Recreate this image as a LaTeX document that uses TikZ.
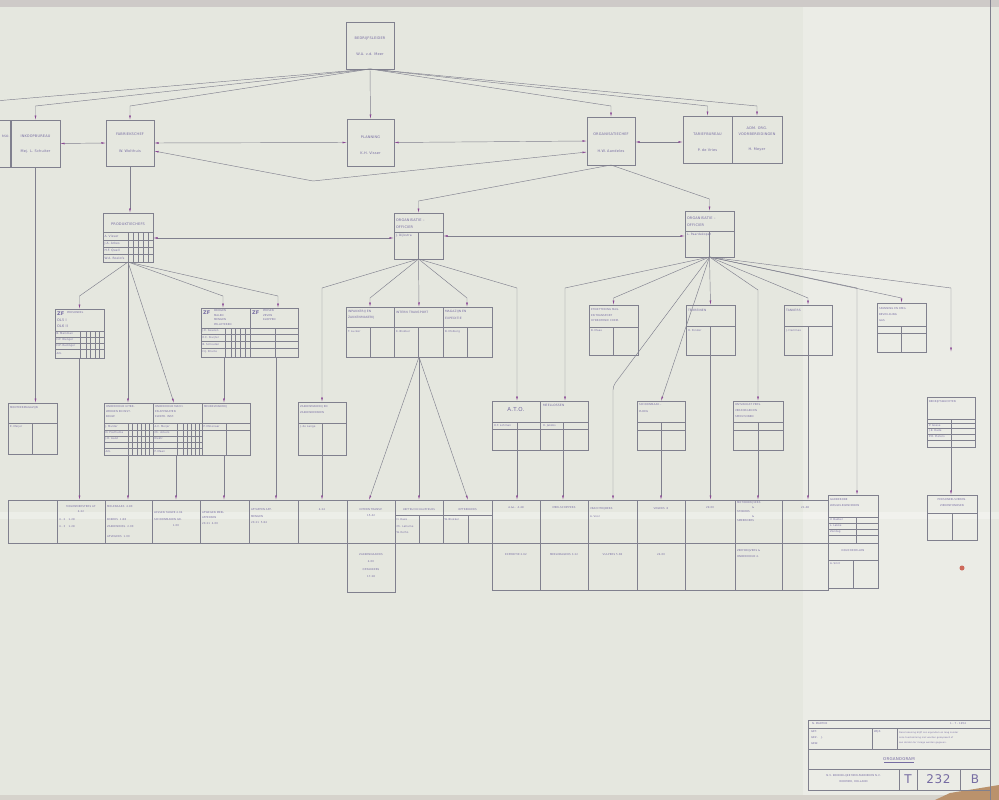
\documentclass[tikz,border=0pt]{standalone}
\usepackage{fontspec}
\newfontfamily\sten[LetterSpace=5]{DejaVu Sans}
\usetikzlibrary{arrows.meta}
\definecolor{paper}{RGB}{229,231,223}
\definecolor{paperR}{RGB}{235,236,230}
\definecolor{edgeT}{RGB}{206,202,200}
\definecolor{edgeB}{RGB}{214,211,204}
\definecolor{tanc}{RGB}{186,146,108}
\definecolor{ln}{RGB}{128,128,142}
\definecolor{ah}{RGB}{138,72,148}
\definecolor{ink}{RGB}{118,108,162}
\definecolor{stain}{RGB}{205,105,90}
\newcounter{tnode}
\newcommand{\orgbx}[5]{\node[bx,anchor=north west,minimum width={(#4-(#2))*1pt},minimum height={(#5-(#3))*1pt}] (#1) at (#2,#3) {};}
\newcommand{\hlin}[3]{\draw[gl] (#1,#3) -- (#2,#3);}
\newcommand{\vlin}[3]{\draw[gl] (#1,#2) -- (#1,#3);}
\newcommand{\txtl}[3][]{\stepcounter{tnode}\node[txl,#1] (t\arabic{tnode}) at (#2) {#3};}
\newcommand{\txtc}[3][]{\stepcounter{tnode}\node[txc,#1] (t\arabic{tnode}) at (#2) {#3};}
\begin{document}
\begin{tikzpicture}[x=1pt,y=-1pt,
 bx/.style={draw=ln,line width=0.5pt,inner sep=0pt,outer sep=0pt},
 gl/.style={draw=ln,line width=0.35pt},
 cn/.style={draw=ln,line width=0.45pt},
 ar/.style={cn,-{Latex[length=4.5pt,width=1.8pt,color=ah]}},
 dar/.style={cn,{Latex[length=4.5pt,width=1.8pt,color=ah]}-{Latex[length=4.5pt,width=1.8pt,color=ah]}},
 tx/.style={font=\sten\fontsize{3.5}{4.2}\selectfont,text=ink,inner sep=0pt,outer sep=0pt},
 txl/.style={tx,anchor=west},
 txc/.style={tx,anchor=center},
 sm/.style={font=\sten\fontsize{3.0}{3.6}\selectfont},
 xs/.style={font=\sten\fontsize{2.6}{3.1}\selectfont},
 zf/.style={font=\sten\bfseries\fontsize{5}{6}\selectfont},
 bigt/.style={font=\sten\fontsize{12}{14}\selectfont},
]
\useasboundingbox (0,0) rectangle (999,800);
\clip (0,0) rectangle (999,800);
% paper
\fill[paper] (0,0) rectangle (999,800);
\fill[paperR] (803,7) rectangle (990,796);
\fill[edgeT] (0,0) rectangle (999,7);
\fill[edgeB] (0,795) rectangle (999,800);
\fill[tanc] (950,793) -- (999,785) -- (999,800) -- (935,800) -- cycle;
\fill[white,opacity=0.3] (0,512) rectangle (999,519);
\draw[ln,line width=0.6pt] (990,0) -- (990,800);
\fill[stain] (962,568) circle (2.5);

% ---------- row 1 and 2 ----------
\orgbx{top}{346}{22}{394}{69}
\txtc{370,39}{BEDRIJFSLEIDER}
\txtc{370,54}{W.A. v.d. Meer}

\orgbx{lpart}{-20}{120}{10}{167}
\txtc[sm,anchor=east]{9.5,136}{RSO.}
\orgbx{inkoop}{11}{120}{60}{167}
\txtc{35.5,136}{INKOOPBUREAU}
\txtc{35.5,152}{Mej. L. Schuiter}
\orgbx{fabr}{106}{120}{154}{166}
\txtc{130,134}{FABRIEKSCHEF}
\txtc{130,151}{W. Wolthuis}
\orgbx{plan}{347}{119}{394}{166}
\txtc{370.5,137}{PLANNING}
\txtc{370.5,153}{K.H. Visser}
\orgbx{orgchef}{587}{117}{635}{165}
\txtc{611,134}{ORGANISATIECHEF}
\txtc{611,151}{H.W. Aandeles}
\orgbx{tarief}{683}{116}{782}{163}
\vlin{732}{116}{163}
\txtc{707.5,134}{TARIEFBUREAU}
\txtc{707.5,150}{P. de Vries}
\txtc{757,128}{ADM. ORG.}
\txtc{757,134}{VOORBEREIDINGEN}
\txtc{757,150}{H. Meyer}

\coordinate (f0) at (-5,101);
\coordinate (f1) at (35.5,106);
\coordinate (f2) at (130,106);
\coordinate (f4) at (611,106);
\coordinate (f5) at (707.5,106);
\coordinate (f6) at (757,106);
\coordinate (tr1) at (707.5,116);
\coordinate (tr2) at (757,116);
\draw[cn] (top.south) -- (f0);
\draw[ar] (top.south) -- (f1) -- (inkoop.north);
\draw[ar] (top.south) -- (f2) -- (fabr.north);
\draw[ar] (top.south) -- (plan.north);
\draw[ar] (top.south) -- (f4) -- (orgchef.north);
\draw[ar] (top.south) -- (f5) -- (tr1);
\draw[ar] (top.south) -- (f6) -- (tr2);

\draw[dar] (inkoop.east) -- (fabr.west);
\draw[dar] (fabr.east) -- (plan.west);
\draw[dar] (plan.east) -- (orgchef.west);
\coordinate (fv1) at (154,151);
\coordinate (vb) at (313,181);
\coordinate (ov) at (587,152);
\draw[dar] (fv1) -- (vb) -- (ov);
\coordinate (oce) at (635,142);
\coordinate (trw) at (683,142);
\draw[dar] (oce) -- (trw);

% ---------- row 3 ----------
\orgbx{prod}{103}{213}{153}{262}
\txtc{128,224}{PRODUKTIECHEFS}
\hlin{103}{153}{232}\hlin{103}{153}{240}\hlin{103}{153}{247}\hlin{103}{153}{254}
\vlin{128}{232}{262}\vlin{133}{232}{262}\vlin{138}{232}{262}\vlin{143}{232}{262}\vlin{148}{232}{262}
\txtl[sm]{104.5,236}{A. Visser}
\txtl[sm]{104.5,243.5}{J.A. Arkes}
\txtl[sm]{104.5,250.5}{H.F. Quell}
\txtl[sm]{104.5,258}{W.A. Roelofs}
\draw[ar] (fabr.south) -- (fabr.south |- prod.north);

\orgbx{orgL}{394}{213}{443}{259}
\txtl{396,220}{ORGANISATIE –}
\txtl{396,227}{OFFICIER}
\hlin{394}{443}{232}
\vlin{418.5}{232}{259}
\txtl[sm]{396,235.5}{J. Dijkstra}
\orgbx{orgR}{685}{211}{734}{257}
\txtl{687,218}{ORGANISATIE –}
\txtl{687,225}{OFFICIER}
\hlin{685}{734}{231}
\vlin{709.5}{231}{257}
\txtl[sm]{687,234.5}{L. Paardekoper}

\coordinate (oL) at (418.5,201);
\coordinate (oR) at (709.5,199);
\draw[ar] (orgchef.south) -- (oL) -- (orgL.north);
\draw[ar] (orgchef.south) -- (oR) -- (orgR.north);
\coordinate (pe) at (153,238);
\coordinate (olw) at (394,238);
\draw[dar] (pe) -- (olw);
\coordinate (ole) at (443,236);
\coordinate (orw) at (685,236);
\draw[dar] (ole) -- (orw);

% ---------- row 4 ----------
\orgbx{zf1}{55}{309}{104}{358}
\txtl[zf]{57,314}{ZF}
\txtl[xs]{67,313}{PERSONEEL}
\txtl{57,320}{OL5 I}
\txtl{57,326}{OL6 II}
\hlin{55}{104}{331}\hlin{55}{104}{337}\hlin{55}{104}{343}\hlin{55}{104}{349}
\vlin{80}{331}{358}\vlin{86}{331}{358}\vlin{90.5}{331}{358}\vlin{95}{331}{358}\vlin{99.5}{331}{358}
\txtl[xs]{56.5,334}{B. Marsman}
\txtl[xs]{56.5,340}{H.F. Wenger}
\txtl[xs]{56.5,346}{H.P. Rudinger}
\txtl[xs]{56.5,354}{Arb.}

\orgbx{zf2}{201}{308}{298}{357}
\vlin{250}{308}{357}
\txtl[zf]{203,313}{ZF}
\txtl[xs]{214,311}{DROGEN}
\txtl[xs]{214,315.5}{MALEN}
\txtl[xs]{214,320}{MENGEN}
\txtl[xs]{214,324.5}{PELLETEREN}
\txtl[zf]{252,313}{ZF}
\txtl[xs]{263,311}{PERSEN}
\txtl[xs]{263,315.5}{ZEVEN}
\txtl[xs]{263,320}{KLOPPEN}
\hlin{201}{298}{328}\hlin{201}{298}{334}\hlin{201}{298}{341}\hlin{201}{298}{348}
\vlin{225}{328}{357}\vlin{231}{328}{357}\vlin{235.5}{328}{357}\vlin{240}{328}{357}\vlin{245}{328}{357}
\vlin{275}{328}{357}
\txtl[xs]{202.5,331}{J.E. Geuzen}
\txtl[xs]{202.5,337.5}{E.C. Sluijter}
\txtl[xs]{202.5,344.5}{B. Schouten}
\txtl[xs]{202.5,352}{H.J. Bruins}

\orgbx{triple}{346}{307}{492}{357}
\vlin{394}{307}{357}\vlin{443}{307}{357}
\hlin{346}{492}{327}
\vlin{370}{327}{357}\vlin{418.5}{327}{357}\vlin{467}{327}{357}
\txtl[sm]{348,312}{INPAKKERIJ EN}
\txtl[sm]{348,318}{ZAKKENMAKERIJ}
\txtl[sm]{396,312}{INTERN TRANSPORT}
\txtl[sm]{445,312}{MAGAZIJN EN}
\txtl[sm]{445,318}{EXPEDITIE}
\txtl[xs]{348,331.5}{T. Lucker}
\txtl[xs]{396,331.5}{K. Blokker}
\txtl[xs]{445,331.5}{B. Molberg}

\orgbx{etik}{589}{305}{638}{355}
\hlin{589}{638}{327}\vlin{613.5}{327}{355}
\txtl[xs]{591,310}{ETIKETTERING MAG.}
\txtl[xs]{591,315.5}{EN TRANSPORT}
\txtl[xs]{591,321}{HYDROFENIE CHEM.}
\txtl[xs]{591,331}{B. Maas}
\orgbx{terrein}{686}{305}{735}{355}
\hlin{686}{735}{326}\vlin{710.5}{326}{355}
\txtl[sm]{688,310}{TERREINEN}
\txtl[xs]{688,331}{H. Ponder}
\orgbx{tankers}{784}{305}{832}{355}
\hlin{784}{832}{326}\vlin{808}{326}{355}
\txtl[sm]{786,310}{TANKERS}
\txtl[xs]{786,331}{J. Hemmes}
\orgbx{spanning}{877}{303}{926}{352}
\hlin{877}{926}{326}\hlin{877}{926}{333}\vlin{901.5}{326}{352}
\txtl[xs]{879,309}{SPANNING EN OMG.}
\txtl[xs]{879,315}{BEVEILIGING}
\txtl[xs]{879,321}{GAS}

% fans row 3 -> row 4/5
\coordinate (p1) at (79.5,296);
\coordinate (p4) at (223,296);
\coordinate (zf2a) at (223,308);
\coordinate (p5) at (278,296);
\coordinate (zf2b) at (278,308);
\coordinate (bBt) at (174,403);
\draw[ar] (prod.south) -- (p1) -- (zf1.north);
\draw[ar] (prod.south) -- (prod.south |- bBt);
\draw[ar] (prod.south) -- (bBt);
\draw[ar] (prod.south) -- (p4) -- (zf2a);
\draw[ar] (prod.south) -- (p5) -- (zf2b);

\coordinate (l1) at (322,288);
\coordinate (zakt) at (322,402);
\coordinate (l2) at (370,298);
\coordinate (l2t) at (370,307);
\coordinate (l4) at (467,298);
\coordinate (l4t) at (467,307);
\coordinate (l5) at (517,288);
\coordinate (l5t) at (517,401);
\draw[ar] (orgL.south) -- (l1) -- (zakt);
\draw[ar] (orgL.south) -- (l2) -- (l2t);
\draw[ar] (orgL.south) -- (triple.north);
\draw[ar] (orgL.south) -- (l4) -- (l4t);
\draw[ar] (orgL.south) -- (l5) -- (l5t);

\coordinate (r1) at (565,288);
\coordinate (r1t) at (565,401);
\coordinate (r2) at (613.5,298);
\coordinate (r4) at (613,386);
\coordinate (r4t) at (613,500);
\coordinate (r5) at (758,290);
\coordinate (r6) at (808,298);
\coordinate (r7) at (857,288);
\coordinate (r7t) at (857,495);
\coordinate (r8) at (901.5,298);
\coordinate (r9) at (951,288);
\draw[ar] (orgR.south) -- (r1) -- (r1t);
\draw[ar] (orgR.south) -- (r2) -- (etik.north);
\draw[ar,rounded corners=4pt] (orgR.south) -- (r4) -- (r4t);
\draw[ar] (orgR.south) -- (terrein.north);
\draw[ar] (orgR.south) -- (r5) -- (r5 |- r1t);
\draw[ar] (orgR.south) -- (r6) -- (tankers.north);
\draw[ar] (orgR.south) -- (r7) -- (r7t);
\draw[ar] (orgR.south) -- (r8) -- (spanning.north);
\draw[ar] (orgR.south) -- (r9) -- (r9 |- spanning.south);

% ---------- row 5 ----------
\orgbx{monteer}{8}{403}{57}{454}
\hlin{8}{57}{423}\vlin{32.5}{423}{454}
\txtl[xs]{10,408}{MONTEERMAGAZIJN}
\txtl[xs]{10,427}{E. Meijer}
\draw[ar] (inkoop.south) -- (inkoop.south |- monteer.north);

\orgbx{bigbx}{104}{403}{250}{455}
\vlin{153}{403}{455}\vlin{202}{403}{455}
\hlin{104}{250}{423}
\hlin{104}{202}{430}\hlin{104}{202}{436}\hlin{104}{202}{442}\hlin{104}{202}{448}
\vlin{128}{423}{455}\vlin{132}{423}{455}\vlin{137}{423}{455}\vlin{141}{423}{455}\vlin{145}{423}{455}\vlin{149}{423}{455}
\vlin{177}{423}{455}\vlin{183}{423}{455}\vlin{187}{423}{455}\vlin{191}{423}{455}\vlin{195}{423}{455}\vlin{199}{423}{455}
\hlin{202}{250}{430}\vlin{226}{423}{455}
\txtl[xs]{106,407}{ONDERHOUD UITBR.}
\txtl[xs]{106,412}{WERKEN EN INST.}
\txtl[xs]{106,417}{BOUW}
\txtl[xs]{155,407}{ONDERHOUD MACH.}
\txtl[xs]{155,412}{EN APPARATEN}
\txtl[xs]{155,417}{ELEKTR. INST.}
\txtl[xs]{204,407}{MEUBELMAKERIJ}
\txtl[xs]{105.5,426.5}{J. Mulder}
\txtl[xs]{105.5,433}{D. Posthuma}
\txtl[xs]{105.5,439}{J.H. Aalst}
\txtl[xs]{105.5,451.5}{Arb.}
\txtl[xs]{154.5,426.5}{A.C. Meijer}
\txtl[xs]{154.5,433}{Ch. Ackers}
\txtl[xs]{154.5,439}{Elektr.}
\txtl[xs]{154.5,451.5}{P. Maan}
\txtl[xs]{203.5,426.5}{P. Molenaar}
\coordinate (zf2c) at (224,403);
\draw[ar] (zf2.south west -| zf2c) -- (zf2c);

\orgbx{zakken}{298}{402}{346}{455}
\hlin{298}{346}{423}\vlin{322}{423}{455}
\txtl[xs]{300,407}{ZAKKENMAKERIJ EN}
\txtl[xs]{300,413}{ZAKKENREPAREN}
\txtl[xs]{300,426.5}{J. de Lange}

\orgbx{ato}{492}{401}{588}{450}
\vlin{540}{401}{450}
\hlin{492}{588}{422}\hlin{492}{588}{429}
\vlin{517}{422}{450}\vlin{563}{422}{450}
\txtc[font=\sten\fontsize{5.5}{6.5}\selectfont]{516,409}{A.T.O.}
\txtl[sm]{543,405}{MEELLOSSEN}
\txtl[xs]{494,425.5}{H.F. Lohman}
\txtl[xs]{543,425.5}{H. Jakobs}

\orgbx{schoon}{637}{401}{685}{450}
\hlin{637}{685}{422}\hlin{637}{685}{430}\vlin{661}{422}{450}
\txtl[xs]{639,405}{SCHOONMAAK –}
\txtl[xs]{639,411.5}{PLOEG}
\draw[ar] (orgR.south) -- (schoon.north);

\orgbx{graving}{733}{401}{783}{450}
\hlin{733}{783}{422}\hlin{733}{783}{430}\vlin{758}{422}{450}
\txtl[xs]{735,405}{ONTVANGST PERS.}
\txtl[xs]{735,411}{VERZORGEN EN}
\txtl[xs]{735,417}{SPEELTUINEN}

\orgbx{bwacht}{927}{397}{975}{447}
\hlin{927}{975}{419}\hlin{927}{975}{423}\hlin{927}{975}{428}\hlin{927}{975}{434}\hlin{927}{975}{440}
\vlin{951.5}{419}{447}
\txtl[xs]{929,402}{BEDRIJFSWACHTEN}
\txtl[xs]{929,425.5}{P. Gosse}
\txtl[xs]{929,431}{J.K. Rade}
\txtl[xs]{929,437}{P.H. Pieters}

% ---------- row 6 ----------
\orgbx{band}{8}{500}{828}{543}
\orgbx{lband}{492}{543}{828}{590}
\orgbx{lzak}{347}{543}{395}{592}
\vlin{57}{500}{543}\vlin{105}{500}{543}\vlin{152}{500}{543}\vlin{200}{500}{543}
\vlin{249}{500}{543}\vlin{298}{500}{543}\vlin{347}{500}{543}\vlin{395}{500}{543}
\vlin{443}{500}{543}\vlin{492}{500}{543}
\vlin{540}{500}{590}\vlin{588}{500}{590}\vlin{637}{500}{590}\vlin{685}{500}{590}
\vlin{735}{500}{590}\vlin{782}{500}{590}
\hlin{395}{492}{515}\vlin{419}{515}{543}\vlin{468}{515}{543}

\txtc[xs]{81,507}{MOLENMEESTERS AF}
\txtc[xs]{81,512}{4.22}
\txtl[xs]{59,520}{4 - 2 \quad 1.28}
\txtl[xs]{59,527}{4 - 3 \quad 1.28}
\txtl[xs]{107,507}{MOLENAARS \ 4.80}
\txtl[xs]{107,520}{KOKERS \ 1.88}
\txtl[xs]{107,527}{ZAKKENWISS. 2.00}
\txtl[xs]{107,537}{AFVEGERS \ 1.00}
\txtl[xs]{154,513}{LOSSEN TARWE 4.04}
\txtl[xs]{154,520}{SCHOONMAKEN GR.}
\txtc[xs]{176,526}{1.00}
\txtl[xs]{202,513}{AFWEGEN MEEL}
\txtl[xs]{202,518}{AFPERSEN}
\txtl[xs]{202,524}{20.21 \ 4.00}
\txtl[xs]{251,510}{AFTAPPEN APP.}
\txtl[xs]{251,517}{MENGEN}
\txtl[xs]{251,523}{20.21 \ 5.84}
\txtc[xs]{322,510}{4.24}
\txtc[xs]{371,510}{INTERN TRANSP.}
\txtc[xs]{371,516}{15.42}
\txtc[font=\sten\fontsize{2.5}{3}\selectfont]{419,510}{HEFTRUCKCHAUFFEURS}
\txtl[xs]{396.5,520}{H. Haze}
\txtl[xs]{396.5,527}{Ch. Lahume}
\txtl[xs]{396.5,533}{W. Eelho}
\txtc[xs]{467.5,510}{OPTREKKERS}
\txtl[xs]{444.5,520}{W. Blokker}
\txtc[xs]{516,508}{A.\&L. \ 4.48}
\txtc[xs]{516,555}{EXPEDITIE 2.62}
\txtc[xs]{564,508}{MEELSCHIPPERS}
\txtc[xs]{564,555}{MEELDRAGERS 3.22}
\txtl[xs]{590,509}{VRACHTRIJDERS}
\txtl[xs]{590,517}{A. Voor}
\txtc[xs]{612.5,555}{VULPERS 5.08}
\txtc[xs]{661,509}{VEGERS \ 8}
\txtc[xs]{661,555}{24.00}
\txtc[xs]{710,508}{29.00}
\txtl[xs]{737,503}{MOTORDRIJVERS}
\txtl[xs]{752,507.5}{\&}
\txtl[xs]{737,512}{STOKERS}
\txtl[xs]{752,516.5}{\&}
\txtl[xs]{737,521}{SMEERDERS}
\txtl[xs]{737,551}{ZEEFDRIJVERS \&}
\txtl[xs]{737,557}{ONDERHOUD 4.}
\txtc[xs]{805,508}{21.48}
\txtc[xs]{371,555}{ZAKKENNAAIERS}
\txtc[xs]{371,562}{4.00}
\txtc[xs]{371,570}{OPZAKKERS}
\txtc[xs]{371,577}{17.28}

\orgbx{garde}{828}{495}{878}{588}
\hlin{828}{878}{517}\hlin{828}{878}{523}\hlin{828}{878}{529}\hlin{828}{878}{535}
\hlin{828}{878}{543}\hlin{828}{878}{560}
\vlin{856}{517}{543}\vlin{853}{560}{588}
\txtl[xs]{830,500}{GARDEROBE}
\txtl[xs]{830,506}{WASGELEGENHEDEN}
\txtl[xs]{830,520}{V. Bakker}
\txtl[xs]{830,526}{L. Lakke}
\txtl[xs]{830,532}{Zondag}
\txtc[xs]{853,551}{DOUCHECELLEN}
\txtl[xs]{830,564}{A. Smit}

\orgbx{perso}{927}{495}{977}{540}
\hlin{927}{977}{513}\vlin{952}{513}{540}
\txtc[xs]{952,500}{PERSONEELSVEREN.}
\txtc[xs]{952,505.5}{ZIEKENFONDSEN}

% arrows into the bottom band
\coordinate (bA) at (128,455);
\coordinate (bB) at (176,455);
\coordinate (bC) at (224,455);
\coordinate (zfr) at (276,357);
\coordinate (trL) at (369,500);
\coordinate (trR) at (468,500);
\coordinate (atoA) at (517,450);
\coordinate (atoB) at (563,450);
\draw[ar] (zf1.south) -- (zf1.south |- band.north);
\draw[ar] (bA) -- (bA |- band.north);
\draw[ar] (bB) -- (bB |- band.north);
\draw[ar] (bC) -- (bC |- band.north);
\draw[ar] (zfr) -- (zfr |- band.north);
\draw[ar] (zakken.south) -- (zakken.south |- band.north);
\draw[ar] (triple.south) -- (trL);
\draw[ar] (triple.south) -- (triple.south |- band.north);
\draw[ar] (triple.south) -- (trR);
\draw[ar] (atoA) -- (atoA |- band.north);
\draw[ar] (atoB) -- (atoB |- band.north);
\draw[ar] (schoon.south) -- (schoon.south |- band.north);
\draw[ar] (terrein.south) -- (terrein.south |- band.north);
\draw[ar] (graving.south) -- (graving.south |- band.north);
\draw[ar] (tankers.south) -- (tankers.south |- band.north);
\draw[ar] (bwacht.south) -- (bwacht.south |- perso.north);

% ---------- title block ----------
\orgbx{title}{808}{720}{990}{790}
\hlin{808}{990}{728}\hlin{808}{990}{749}\hlin{808}{990}{769}
\vlin{872}{728}{749}\vlin{897}{728}{749}
\vlin{899}{769}{790}\vlin{917}{769}{790}\vlin{960}{769}{790}
\txtl[xs]{812,724}{N. MARTINI}
\txtl[xs]{950,724}{1 - 7 - 1954}
\txtl[xs]{811,731.5}{GET.}
\txtl[xs]{811,737.5}{GEZ. \quad J.}
\txtl[xs]{811,743.5}{GEW.}
\txtl[xs]{874,731.5}{WIJZ.}
\txtl[font=\sten\fontsize{2.2}{2.6}\selectfont]{899,733}{Deze tekening blijft ons eigendom en mag zonder}
\txtl[font=\sten\fontsize{2.2}{2.6}\selectfont]{899,738}{onze toestemming niet worden gekopieerd of}
\txtl[font=\sten\fontsize{2.2}{2.6}\selectfont]{899,743}{aan derden ter inzage worden gegeven.}
\txtc[font=\sten\fontsize{4}{5}\selectfont]{899,759}{ORGANOGRAM}
\draw[ink,line width=0.3pt] (884,761.8) -- (914,761.8);
\txtc[xs]{853.5,776}{N.V. KONINKLIJKE MEELFABRIEKEN N.V.}
\txtc[xs]{853.5,782}{WORMER, HOLLAND}
\txtc[bigt]{908,779.5}{T}
\txtc[bigt]{938.5,779.5}{232}
\txtc[bigt]{975,779.5}{B}
\end{tikzpicture}
\end{document}
